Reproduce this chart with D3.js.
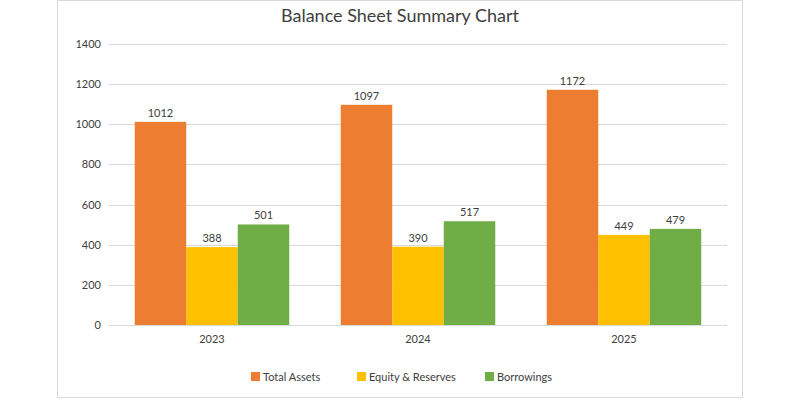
<!DOCTYPE html>
<html>
<head>
<meta charset="utf-8">
<script src="https://cdn.jsdelivr.net/npm/d3@7"></script>
<style>
  body { margin: 0; background: #fff; }
  svg text { font-family: Lato, "Open Sans", sans-serif; fill: #404040; }
</style>
</head>
<body>
<svg width="800" height="400"></svg>
<script>
const years = ['2023', '2024', '2025'];
const seriesNames = ['Total Assets', 'Equity & Reserves', 'Borrowings'];
const totalAssets = [1012, 1097, 1172];
const equityReserves = [388, 390, 449];
const borrowings = [501, 517, 479];
const yTicks = [0, 200, 400, 600, 800, 1000, 1200, 1400];
const colors = ['#ED7D31', '#FFC000', '#70AD47'];

const seriesValues = [totalAssets, equityReserves, borrowings];

const svg = d3.select('svg');
const width = +svg.attr('width');
const height = +svg.attr('height');

// chart frame
svg.append('rect')
  .attr('x', 57.5).attr('y', 0.5)
  .attr('width', 685).attr('height', 397)
  .attr('fill', '#fff')
  .attr('stroke', '#D9D9D9');

const margin = {top: 44, right: 73, bottom: 75, left: 109};
const innerWidth = width - margin.left - margin.right;
const innerHeight = height - margin.top - margin.bottom;

const g = svg.append('g')
  .attr('transform', `translate(${margin.left}, ${margin.top})`);

const yScale = d3.scaleLinear()
  .domain([0, 1400])
  .range([innerHeight, 0]);

const xScale = d3.scaleBand()
  .domain(years)
  .range([0, innerWidth])
  .paddingInner(0.25)
  .paddingOuter(0.125);

const xInner = d3.scaleBand()
  .domain(seriesNames)
  .range([0, xScale.bandwidth()]);

// gridlines
g.append('g')
  .selectAll('line')
  .data(yTicks)
  .enter().append('line')
  .attr('x1', 0).attr('x2', innerWidth)
  .attr('y1', d => Math.round(yScale(d)) + 0.5)
  .attr('y2', d => Math.round(yScale(d)) + 0.5)
  .attr('stroke', '#D9D9D9');

// y axis labels
const yAxis = d3.axisLeft(yScale).tickValues(yTicks).tickFormat(d3.format('d')).tickSize(0).tickPadding(8);
g.append('g').call(yAxis)
  .call(a => a.select('.domain').remove())
  .selectAll('text')
  .attr('font-size', 11)
  .style('font-family', 'Lato, sans-serif')
  .attr('fill', '#404040');

// x axis labels
const xAxis = d3.axisBottom(xScale).tickSize(0).tickPadding(10);
g.append('g')
  .attr('transform', `translate(0, ${innerHeight})`)
  .call(xAxis)
  .call(a => a.select('.domain').remove())
  .selectAll('text')
  .attr('font-size', 11)
  .style('font-family', 'Lato, sans-serif')
  .attr('fill', '#404040');

// bars
const rows = [];
years.forEach((y, i) => {
  seriesNames.forEach((s, j) => {
    rows.push({year: y, series: s, value: seriesValues[j][i], color: colors[j]});
  });
});

g.selectAll('rect.bar').data(rows)
  .enter().append('rect')
  .attr('class', 'bar')
  .attr('x', d => xScale(d.year) + xInner(d.series))
  .attr('y', d => yScale(d.value))
  .attr('width', xInner.bandwidth())
  .attr('height', d => innerHeight - yScale(d.value))
  .attr('fill', d => d.color);

g.selectAll('text.val').data(rows)
  .enter().append('text')
  .attr('class', 'val')
  .attr('x', d => xScale(d.year) + xInner(d.series) + xInner.bandwidth() / 2)
  .attr('y', d => yScale(d.value) - 5)
  .attr('text-anchor', 'middle')
  .attr('font-size', 11)
  .text(d => d.value);

// title
svg.append('text')
  .attr('x', 400)
  .attr('y', 22)
  .attr('text-anchor', 'middle')
  .attr('font-size', 18)
  .text('Balance Sheet Summary Chart');

// legend
const legendX = [251, 357, 485];
const legend = svg.append('g');
seriesNames.forEach((s, i) => {
  const item = legend.append('g').attr('transform', `translate(${legendX[i]}, 372)`);
  item.append('rect')
    .attr('width', 9).attr('height', 9)
    .attr('fill', colors[i]);
  item.append('text')
    .attr('x', 12).attr('y', 9)
    .attr('font-size', 11)
    .text(s);
});
</script>
</body>
</html>
